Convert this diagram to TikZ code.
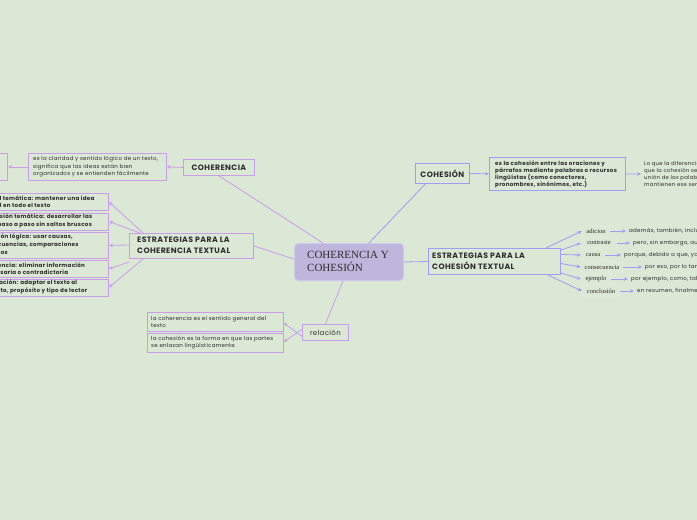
\documentclass[tikz,border=0pt]{standalone}
\usepackage{fontspec}
\setmainfont{Liberation Serif}
\newfontfamily\mmsans[LetterSpace=5]{Poppins}
\usetikzlibrary{arrows.meta}
\definecolor{bgpaper}{RGB}{220,232,214}
\definecolor{cohlila}{RGB}{200,158,232}
\definecolor{cohazul}{RGB}{158,158,244}
\definecolor{raizfill}{RGB}{190,182,221}
\definecolor{raizline}{RGB}{208,200,234}
\definecolor{tinta}{RGB}{45,45,45}
\begin{document}
\begin{tikzpicture}[x=1pt, y=-1pt, >={Stealth[length=4pt,width=3.5pt]},
    lila/.style={draw=cohlila, line width=0.8pt},
    azul/.style={draw=cohazul, line width=0.8pt},
    titulo/.style={font=\mmsans\bfseries\fontsize{7.8}{11}\selectfont, text=tinta, align=left, inner sep=0pt},
    nota/.style={font=\mmsans\fontsize{5.5}{7.5}\selectfont, text=tinta, align=left, inner sep=0pt},
    notab/.style={font=\mmsans\bfseries\fontsize{5.6}{7.6}\selectfont, text=tinta, align=left, inner sep=0pt},
    rotulo/.style={font=\fontsize{6.5}{7}\selectfont, text=tinta, draw=white!45!bgpaper, rounded corners=1pt, inner sep=0pt}]

\useasboundingbox (0,0) rectangle (697,520);
\fill[bgpaper] (0,0) rectangle (697,520);
\clip (0,0) rectangle (697,520);

% nodo central
\node[fill=raizfill, draw=raizline, line width=1pt, rounded corners=4pt, minimum width=109, minimum height=37, anchor=north west] (raiz) at (294,243) {};
\node[anchor=west, align=left, inner sep=0pt, font=\fontsize{11}{13}\selectfont, text=tinta] (raiztxt) at (307,261) {COHERENCIA Y\\COHESIÓN};

% rama coherencia
\node[lila, minimum width=71, minimum height=16, anchor=north west] (coh) at (183,159) {};
\node[titulo] at (coh) {COHERENCIA};
\node[lila, minimum width=138, minimum height=27, anchor=north west] (cohdef) at (28,153) {};
\node[nota, anchor=west] at (33,167) {es la claridad y sentido lógico de un texto,\\significa que las ideas están bien\\organizados y se entienden fácilmente};
\node[lila, minimum width=40, minimum height=27, anchor=north east] (cohmas) at (8,153) {};
\draw[lila, ->] (coh.west) -- (cohdef.east);
\draw[lila, ->] (cohdef.west) -- (cohmas.east);

% estrategias de coherencia
\node[lila, line width=1pt, minimum width=124, minimum height=25, anchor=north west] (ecoh) at (129,233) {};
\node[titulo, anchor=west] at (137,245.5) {ESTRATEGIAS PARA LA\\COHERENCIA TEXTUAL};

\node[lila, minimum width=134, minimum height=17, anchor=north east] (unidad) at (109,193) {};
\node[notab, anchor=west] at (-21,201.5) {Unidad temática: mantener una idea\\central en todo el texto};
\node[lila, minimum width=134, minimum height=17, anchor=north east] (progre) at (109,212.5) {};
\node[notab, anchor=west] at (-21,221) {Progresión temática: desarrollar las\\ideas paso a paso sin saltos bruscos};
\node[lila, minimum width=134, minimum height=26, anchor=north east] (conex) at (109,232) {};
\node[notab, anchor=west] at (-21,245) {Conexión lógica: usar causas,\\consecuencias, comparaciones\\ejemplos};
\node[lila, minimum width=134, minimum height=17, anchor=north east] (pertin) at (109,260) {};
\node[notab, anchor=west] at (-21,268.5) {Pertinencia: eliminar información\\innecesaria o contradictoria};
\node[lila, minimum width=134, minimum height=17, anchor=north east] (adecu) at (109,278.5) {};
\node[notab, anchor=west] at (-21,287) {Adecuación: adaptar el texto al\\contexto, propósito y tipo de lector};

\draw[lila, ->] ([xshift=14pt]ecoh.north west) -- (unidad.east);
\draw[lila, ->] ([xshift=11pt]ecoh.north west) -- (progre.east);
\draw[lila, ->] ([yshift=1pt]ecoh.west) -- (conex.east);
\draw[lila, ->] ([yshift=-3pt]ecoh.south west) -- (pertin.east);
\draw[lila, ->] ([xshift=14pt]ecoh.south west) -- (adecu.east);

% relacion
\node[lila, minimum width=46, minimum height=16, anchor=north west] (rel) at (302,324) {};
\node[nota, font=\mmsans\fontsize{7}{9}\selectfont] at (rel) {relación};
\node[lila, minimum width=136, minimum height=19, anchor=north west] (rela) at (147,312) {};
\node[nota, anchor=west, font=\mmsans\fontsize{5.5}{7}\selectfont] at (151,321.5) {la coherencia es el sentido general del\\texto};
\node[lila, minimum width=136, minimum height=19, anchor=north west] (relb) at (147,333) {};
\node[nota, anchor=west, font=\mmsans\fontsize{5.5}{7}\selectfont] at (151,342.5) {la cohesión es la forma en que las partes\\se enlazan lingüísticamente};
\draw[lila, ->] ([yshift=-4pt]rel.west) -- ([yshift=-1pt]rela.east);
\draw[lila, ->] ([yshift=3pt]rel.west) -- ([yshift=1pt]relb.east);

% rama cohesion
\node[azul, minimum width=54, minimum height=20, anchor=north west] (cohe) at (415,163) {};
\node[titulo] at (cohe) {COHESIÓN};
\node[azul, minimum width=136, minimum height=33, anchor=north west] (cohedef) at (489,157) {};
\node[notab, anchor=west, font=\mmsans\bfseries\fontsize{5.6}{7}\selectfont] at (495,174) {es la cohesión entre las oraciones y\\párrafos mediante palabras o recursos\\lingüístas (como conectores,\\pronombres, sinónimos, etc.)};
\node[nota, anchor=west, font=\mmsans\fontsize{5.3}{7}\selectfont] (difer) at (644,174) {Lo que la diferencia de la coherencia es\\que la cohesión se centra en la forma de\\unión de las palabras y oraciones que\\mantienen ese sentido};
\draw[azul, ->] (cohe.east) -- (cohedef.west);
\draw[azul, ->] (cohedef.east) -- ([xshift=-3pt]difer.west);

% estrategias de cohesion
\node[azul, line width=1pt, minimum width=132, minimum height=26, anchor=north west] (ecohe) at (428,248) {};
\node[titulo, anchor=west] at (432,261) {ESTRATEGIAS PARA LA\\COHESIÓN TEXTUAL};

\node[rotulo, minimum width=28, minimum height=10] (adic) at (596,231) {adicion};
\node[rotulo, minimum width=36, minimum height=10] (contr) at (599,243) {contraste};
\node[rotulo, minimum width=24, minimum height=10] (causa) at (593,255) {causa};
\node[rotulo, minimum width=42, minimum height=10] (conse) at (602,267) {consecuencia};
\node[rotulo, minimum width=30, minimum height=10] (ejem) at (596,279) {ejemplo};
\node[rotulo, minimum width=38, minimum height=10] (concl) at (601,291) {conclusión};

\node[nota, anchor=west] (adicx) at (629,231) {además, también, incluso};
\node[nota, anchor=west] (contrx) at (633,243) {pero, sin embargo, aunque};
\node[nota, anchor=west] (causax) at (624,255) {porque, debido a que, ya que};
\node[nota, anchor=west] (consex) at (645,267) {por eso, por lo tanto};
\node[nota, anchor=west] (ejemx) at (631,279) {por ejemplo, como, tal como};
\node[nota, anchor=west] (conclx) at (637,291) {en resumen, finalmente};

\draw[azul, ->] ([xshift=-15pt]ecohe.north east) -- (adic.west);
\draw[azul, ->] ([yshift=-2pt]ecohe.north east) -- (contr.west);
\draw[azul, ->] ([yshift=7pt]ecohe.east) -- (causa.west);
\draw[azul, ->] ([yshift=-2pt]ecohe.east) -- (conse.west);
\draw[azul, ->] ([yshift=2pt]ecohe.south east) -- (ejem.west);
\draw[azul, ->] ([xshift=-13pt]ecohe.south east) -- (concl.west);
\draw[azul, ->] (adic.east) -- ([xshift=-3pt]adicx.west);
\draw[azul, ->] (contr.east) -- ([xshift=-3pt]contrx.west);
\draw[azul, ->] (causa.east) -- ([xshift=-3pt]causax.west);
\draw[azul, ->] (conse.east) -- ([xshift=-3pt]consex.west);
\draw[azul, ->] (ejem.east) -- ([xshift=-3pt]ejemx.west);
\draw[azul, ->] (concl.east) -- ([xshift=-3pt]conclx.west);

% ramas del nodo central
\draw[lila] (raiz.north west) ++(29,0) -- (coh.south);
\draw[lila] (raiz.west) ++(0,-3) -- (ecoh.east);
\draw[azul] (raiz.north) ++(20,0) -- ([xshift=-17pt]cohe.south);
\draw[azul] (raiz.east) -- (ecohe.west);
\draw[lila] (raiz.south) ++(-6,0) -- (rel.north);
\end{tikzpicture}
\end{document}
